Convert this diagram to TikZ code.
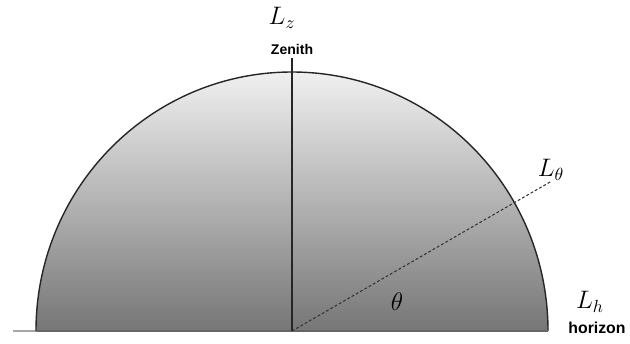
\documentclass[tikz,border=0pt]{standalone}
\usepackage{fontspec}
\newfontfamily\labelfont{Liberation Sans}
\usetikzlibrary{calc}
\definecolor{cieloClaro}{RGB}{240,240,240}
\definecolor{cieloOscuro}{RGB}{118,118,118}

\begin{document}
\begin{tikzpicture}
            % Parámetros de la bóveda celeste
            \def\rx{5.12}  % Radio horizontal
            \def\ry{5.18}  % Radio vertical
            \def\zt{5.46}  % Altura de la línea del cenit
            \def\ang{30}   % Ángulo theta

            \useasboundingbox (-5.84,-0.24) rectangle (6.76,6.62);

            % 1. HORIZONTE
            \draw[gray!70, thick] (-5.58,0) -- (\rx,0);

            % 2. BÓVEDA (semicírculo sombreado)
            \shade[top color=cieloClaro, bottom color=cieloOscuro]
            (\rx,0) arc[start angle=0, end angle=180, x radius=\rx, y radius=\ry] -- cycle;
            \draw[black!85, thick]
            (\rx,0) arc[start angle=0, end angle=180, x radius=\rx, y radius=\ry];
            \draw[black!60, semithick] (-\rx,0) -- (\rx,0);

            % 3. CENIT Y DIRECCIÓN THETA
            \coordinate (centro) at (0,0);
            \coordinate (cenit) at (0,\zt);
            \coordinate (dir) at (\ang:5.98);
            \draw[black!85, semithick] (centro) -- (cenit);
            \draw[black!80, semithick, dash pattern=on 1.6pt off 1.2pt] (centro) -- (dir);

            % 4. ETIQUETAS
            \node (Lz) at (-0.2,6.26) {\Large $L_z$};
            \node (zenith) at (0,5.64) {\labelfont\bfseries\fontsize{8}{9}\selectfont Zenith};
            \node (Ltheta) at (5.18,3.22) {\Large $L_\theta$};
            \node (theta) at (2.1,0.58) {\Large $\theta$};
            \node (Lh) at (5.96,0.58) {\Large $L_h$};
            \node (horizon) at (6.1,0.06) {\labelfont\bfseries\fontsize{9}{10}\selectfont horizon};
        \end{tikzpicture}
\end{document}
